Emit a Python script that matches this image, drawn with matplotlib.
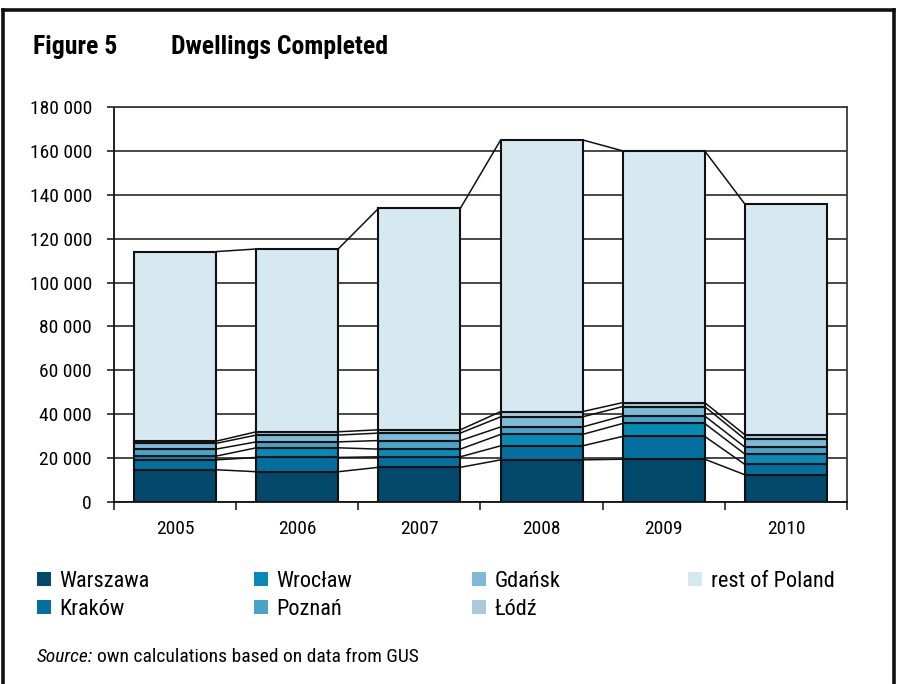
import matplotlib
matplotlib.use("Agg")
import matplotlib.pyplot as plt
from matplotlib import font_manager
from matplotlib.lines import Line2D
from matplotlib.patches import Patch
import numpy as np

# ---- data (dwellings completed, units) ----
years = ["2005", "2006", "2007", "2008", "2009", "2010"]
warszawa = [14700, 13800, 15800, 19200, 19500, 12400]
krakow = [4500, 6500, 4800, 6400, 10400, 4700]
wroclaw = [1700, 4400, 3500, 5200, 5900, 4700]
poznan = [3200, 2700, 3900, 3400, 3400, 3200]
gdansk = [2600, 3100, 3400, 4600, 4300, 3600]
lodz = [1000, 1500, 1500, 2400, 1800, 2000]
rest_of_poland = [86400, 83300, 100900, 123800, 114700, 105100]

series_names = ["Warszawa", "Kraków", "Wrocław", "Poznań", "Gdańsk", "Łódź", "rest of Poland"]
series_values = [warszawa, krakow, wroclaw, poznan, gdansk, lodz, rest_of_poland]
series_colors = ["#02496B", "#046E9E", "#0889B6", "#4BA4C7", "#7DBAD6", "#A9CCDD", "#D6E8F0"]

y_ticks = list(range(0, 180001, 20000))

# ---- font: prefer a condensed sans ----
available = {f.name for f in font_manager.fontManager.ttflist}
family = "DejaVu Sans"
for cand in ["Liberation Sans Narrow", "Roboto Condensed", "Open Sans Condensed", "Liberation Sans"]:
    if cand in available:
        family = cand
        break
plt.rcParams["font.family"] = [family, "DejaVu Sans"]

W, H = 898, 684
fig = plt.figure(figsize=(W / 100, H / 100), dpi=100)

def fx(px):
    return px / W

def fy(py):
    return 1 - py / H

ax_left, ax_right, ax_top, ax_bottom = 114, 847, 107, 502
ax = fig.add_axes([fx(ax_left), fy(ax_bottom), fx(ax_right - ax_left), (ax_bottom - ax_top) / H])

x = np.arange(len(years))
bar_w = 0.67
bottoms = np.zeros(len(years))
tops_per_series = []
for name, vals, col in zip(series_names, series_values, series_colors):
    vals = np.array(vals, dtype=float)
    ax.bar(x, vals, bar_w, bottom=bottoms, color=col, edgecolor="#111111",
           linewidth=1.5, label=name, zorder=3)
    bottoms = bottoms + vals
    tops_per_series.append(bottoms.copy())

# series lines joining segment tops between adjacent bars
for tops in tops_per_series:
    for i in range(len(years) - 1):
        ax.plot([x[i] + bar_w / 2, x[i + 1] - bar_w / 2], [tops[i], tops[i + 1]],
                color="#111111", linewidth=1.1, zorder=2, solid_capstyle="butt")

ax.set_xlim(-0.5, len(years) - 0.5)
ax.set_ylim(0, 180000)
ax.set_yticks(y_ticks)
ax.set_yticklabels([f"{v:,}".replace(",", " ") for v in y_ticks])
ax.set_xticks(x)
ax.set_xticklabels(years)
ax.set_xticks(np.arange(-0.5, len(years), 1.0), minor=True)
ax.tick_params(axis="x", which="major", length=0, pad=13, labelsize=14)
ax.tick_params(axis="x", which="minor", length=6, width=1.2, direction="out", color="#222222")
ax.tick_params(axis="y", length=5, width=1.2, direction="out", color="#222222", pad=11, labelsize=14)

ax.yaxis.grid(True, color="#3a3a3a", linewidth=1.3, zorder=0)
ax.set_axisbelow(True)
for side in ["left", "bottom", "top", "right"]:
    ax.spines[side].set_color("#111111")
    ax.spines[side].set_linewidth(1.3)
ax.spines["top"].set_color("#3a3a3a")
ax.spines["right"].set_color("#3a3a3a")

# title
fig.text(fx(33), fy(47), "Figure 5", fontsize=18.5, fontweight="bold", va="center", ha="left")
fig.text(fx(171), fy(47), "Dwellings Completed", fontsize=18.5, fontweight="bold", va="center", ha="left")

# legend: four columns, filled top to bottom
col_x = [37, 254, 472, 688]
col_items = [[0, 1], [2, 3], [4, 5], [6]]
for cx, items in zip(col_x, col_items):
    handles = [Patch(facecolor=series_colors[k], edgecolor="none") for k in items]
    labels = [series_names[k] for k in items]
    fig.legend(handles, labels, loc="upper left",
               bbox_to_anchor=(fx(cx), fy(571)), frameon=False, fontsize=16,
               handlelength=0.62, handleheight=0.62, handletextpad=0.4,
               labelspacing=0.3, borderaxespad=0, borderpad=0)

# source note
fig.canvas.draw()
renderer = fig.canvas.get_renderer()
src_lbl = fig.text(fx(37), fy(657), "Source:", fontsize=14, fontstyle="italic", va="center", ha="left")
ext = src_lbl.get_window_extent(renderer=renderer)
fig.text(ext.x1 / W + fx(4), fy(657), "own calculations based on data from GUS",
         fontsize=14, va="center", ha="left")

# outer frame (open at the bottom)
frame_kw = dict(color="#111111", linewidth=2.6, transform=fig.transFigure, solid_capstyle="projecting")
fig.add_artist(Line2D([fx(3), fx(3)], [fy(10), 0], **frame_kw))
fig.add_artist(Line2D([fx(3), fx(894)], [fy(10), fy(10)], **frame_kw))
fig.add_artist(Line2D([fx(894), fx(894)], [fy(10), 0], **frame_kw))

fig.savefig("out.png", dpi=100)
